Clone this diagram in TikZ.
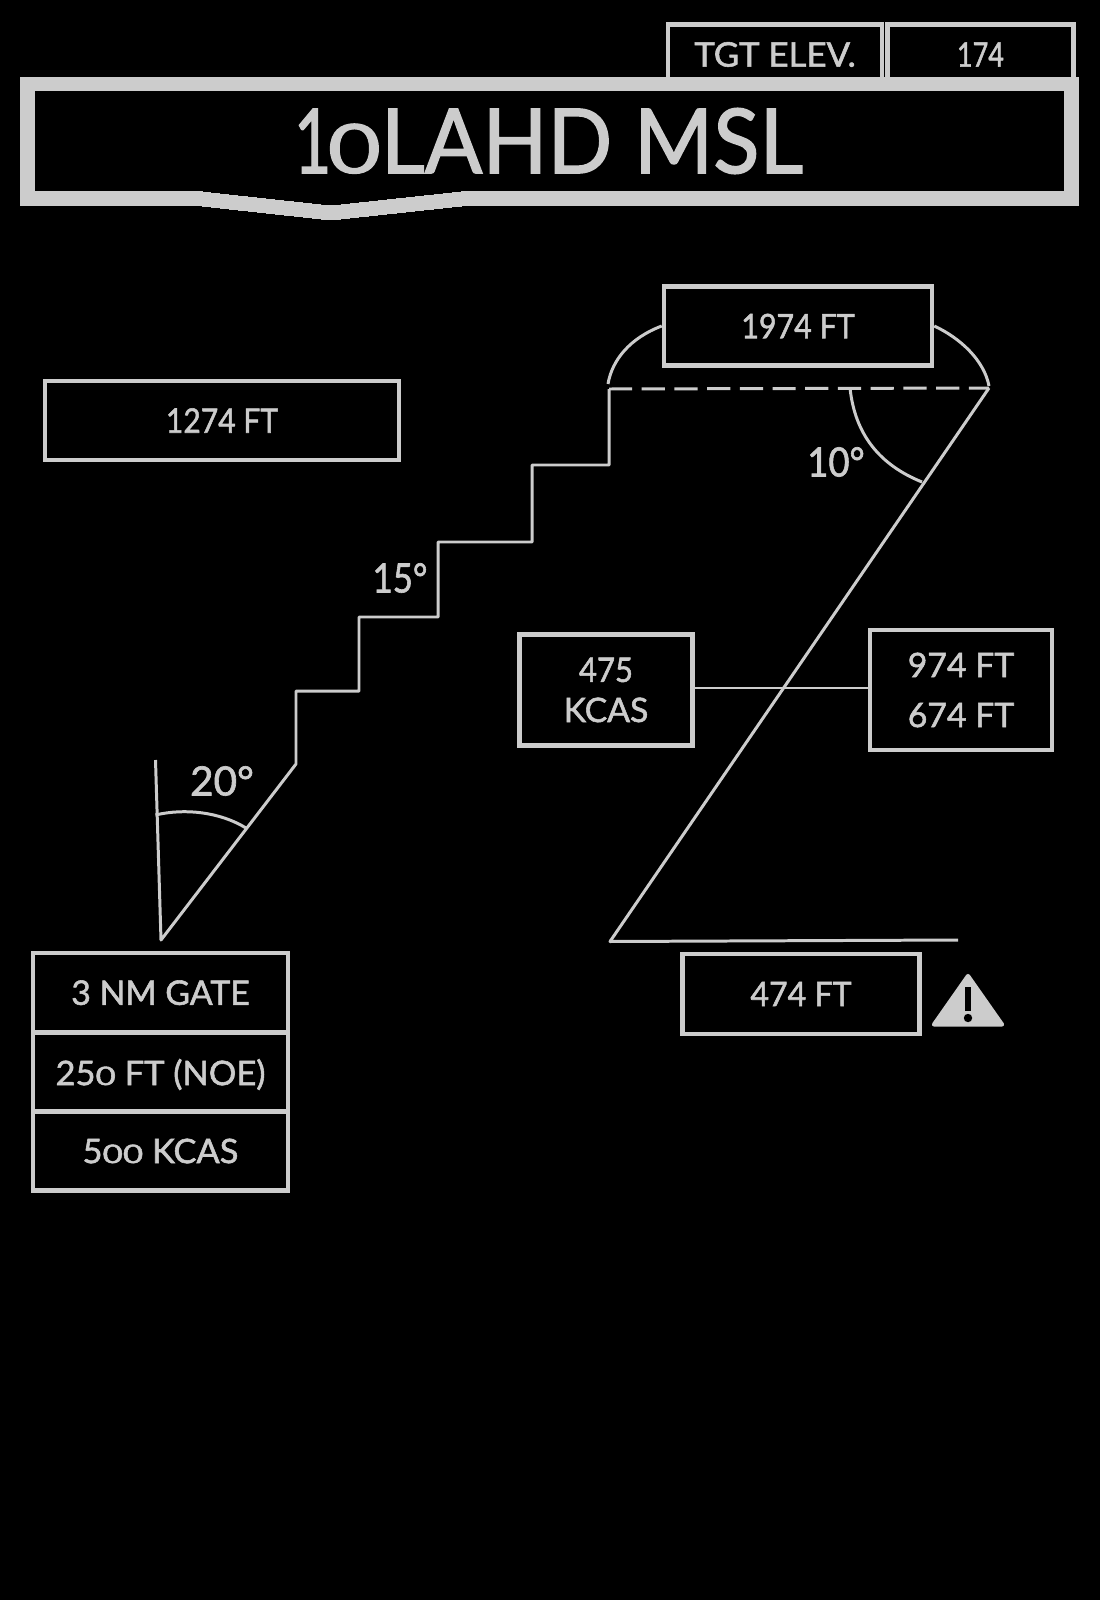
\documentclass[tikz,border=0pt]{standalone}
\usepackage{fontspec}
\usepackage{graphicx}
\setmainfont{Lato}[FakeBold=1.6]
\usepackage{tikz}
\usetikzlibrary{positioning}

\definecolor{hudgray}{gray}{0.8}
\newcommand{\lowz}{\scalebox{1.02}[0.76]{0}}
\newcommand{\slim}[2]{\scalebox{#1}[1]{#2}}

\tikzset{
    databox/.style={draw=hudgray, line width=1.25pt, inner sep=0pt, text=hudgray, align=center, font=\fontsize{9.6}{11.4}\selectfont},
    angletext/.style={text=hudgray, inner sep=0pt, font=\fontsize{11.5}{13}\selectfont},
    trackline/.style={draw=hudgray, line width=0.85pt}
}

\begin{document}
\begin{tikzpicture}[x=0.01cm,y=-0.01cm]
            \useasboundingbox (0,0) rectangle (1100,1600);
            \fill[black] (0,0) rectangle (1100,1600);

            % target elevation
            \node[databox, minimum width=2.14cm, minimum height=0.6cm] (elevname) at (775,54.5) {\slim{1.03}{TGT ELEV.}};
            \node[databox, minimum width=1.86cm, minimum height=0.6cm] (elevvalue) at (980.5,54.5) {\slim{0.8}{174}};

            % banner
            \filldraw[fill=hudgray, draw=hudgray, even odd rule, line width=0pt]
                (20,78) -- (1078,78) -- (1078,206) -- (461,206) -- (331,220) -- (202,206) -- (20,206) -- cycle
                (34,91) -- (1064,91) -- (1064,192) -- (461,192) -- (331,206) -- (202,192) -- (34,192) -- cycle;
            \node[text=hudgray, inner sep=0pt, font=\fontsize{25.5}{28}\selectfont] (title) at (548.5,141) {\slim{0.72}{1}\kern-1pt\lowz\slim{0.95}{LAHD MSL}};

            % altitude boxes
            \node[databox, minimum width=2.68cm, minimum height=0.79cm] (topalt) at (798,326) {\slim{0.9}{1974 FT}};
            \node[databox, minimum width=3.54cm, minimum height=0.79cm] (midalt) at (222,420.5) {\slim{0.89}{1274 FT}};
            \node[databox, minimum width=1.73cm, minimum height=1.11cm] (kcasbox) at (606,690) {\slim{0.92}{475}\\KCAS};
            \node[databox, minimum width=1.82cm, minimum height=1.2cm] (lowalt) at (961,690) {974 FT\\[2.8pt]674 FT};
            \node[databox, minimum width=2.37cm, minimum height=0.8cm] (warnalt) at (801,994) {\slim{0.95}{474 FT}};

            % gate table
            \node[databox, minimum width=2.55cm, minimum height=0.795cm] (gate) at (160.5,992.7) {3 NM GATE};
            \node[databox, minimum width=2.55cm, minimum height=0.79cm, text depth=0pt] (noe) at (160.5,1072) {\slim{1.02}{25\lowz{} FT (NOE)}};
            \node[databox, minimum width=2.55cm, minimum height=0.79cm] (speed) at (160.5,1151) {\slim{1.02}{5\lowz\lowz{} KCAS}};

            % angle labels
            \node[angletext] (twenty) at (222,781) {20°};
            \node[angletext] (fifteen) at (400,578) {\slim{0.86}{15°}};
            \node[angletext] (ten) at (836,462) {\slim{0.9}{10°}};

            % run in and stairs
            \coordinate (gatetop) at (155.5,760);
            \coordinate (gatetip) at (161,940);
            \coordinate (stairtop) at (609,389);
            \draw[trackline, line join=round] (gatetop) -- (gatetip) -- (296,764) -- (296,691) -- (359,691) -- (359,617) -- (438,617)
                -- (438,542) -- (532,542) -- (532,465) -- (609,465) -- (stairtop);

            % dive and pull out
            \coordinate (apex) at (989,388);
            \coordinate (bottom) at (610,941.5);
            \coordinate (pullout) at (958,940);
            \draw[trackline, line join=round] (apex) -- (bottom) -- (pullout);
            \draw[trackline, dash pattern=on 6.6pt off 2.7pt] (stairtop) -- (apex);
            \draw[trackline] ([yshift=0.02cm]kcasbox.east) -- ([yshift=0.02cm]lowalt.west);

            % arcs
            \draw[trackline] (topalt.west) .. controls (630,338) and (612,360) .. (608,384);
            \draw[trackline] (topalt.east) .. controls (960,338) and (984,360) .. (989,386);
            \draw[trackline] (850,388) .. controls (855,435) and (880,465) .. (922,482);
            \draw[trackline] (155.5,815) .. controls (185,808) and (220,812) .. (246,828);

            % warning sign
            \filldraw[fill=hudgray, draw=hudgray, line width=1.2pt, line join=round] (968,976) -- (1002,1024.5) -- (934,1024.5) -- cycle;
            \draw[black, line width=1.7pt] (968,987) -- (968,1011);
            \fill[black] (968,1018) circle (4.2);
\end{tikzpicture}
\end{document}
